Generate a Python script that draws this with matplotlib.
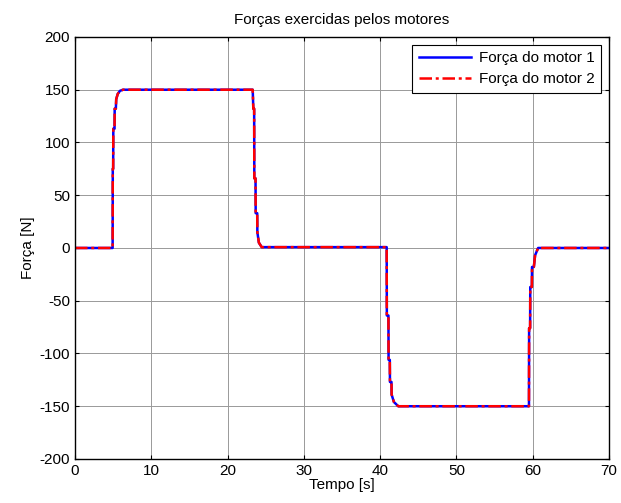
import matplotlib
matplotlib.use("Agg")
import matplotlib.pyplot as plt

# time [s] and force [N] (both motors overlap)
tempo = [0.0, 4.93, 4.95, 5.00, 5.02, 5.18, 5.20, 5.35, 5.40, 5.60, 5.90, 6.30,
         23.29, 23.37, 23.48, 23.50, 23.66, 23.68, 23.88, 23.90, 24.10, 24.47,
         40.85, 40.87, 41.08, 41.10, 41.26, 41.28, 41.48, 41.50, 41.80, 42.37,
         59.50, 59.52, 59.65, 59.67, 59.88, 59.90, 60.14, 60.30, 60.70, 70.0]
forca1 = [0.0, 0.0, 75.0, 75.0, 113.0, 113.0, 132.0, 132.0, 141.0, 146.0, 149.0, 150.0,
          150.0, 132.0, 132.0, 66.0, 66.0, 33.0, 33.0, 15.0, 5.0, 0.8,
          0.8, -64.0, -64.0, -106.0, -106.0, -127.0, -127.0, -139.0, -146.0, -150.0,
          -150.0, -76.0, -76.0, -37.0, -37.0, -18.0, -18.0, -7.0, 0.0, 0.0]
forca2 = list(forca1)

series_labels = ["Força do motor 1", "Força do motor 2"]
x_ticks = list(range(0, 71, 10))
y_ticks = list(range(-200, 201, 50))

plt.rcParams["font.family"] = ["Liberation Sans", "DejaVu Sans"]
plt.rcParams["font.size"] = 11
plt.rcParams["axes.unicode_minus"] = False

fig = plt.figure(figsize=(6.21, 5.03), dpi=100)
ax = fig.add_axes([0.1208, 0.0875, 0.860, 0.839])

ax.plot(tempo, forca1, color="blue", lw=1.8, label=series_labels[0])
ax.plot(tempo, forca2, color="red", lw=1.8, ls=(0, (5, 1.5, 1.2, 1.5)),
        label=series_labels[1])

ax.set_xlim(0, 70)
ax.set_ylim(-200, 200)
ax.set_xticks(x_ticks)
ax.set_yticks(y_ticks)
ax.grid(True, color="0.6", lw=0.7)
ax.set_axisbelow(True)
ax.tick_params(direction="in", top=True, right=True, length=3, pad=3.5,
               labelsize=11)
for s in ax.spines.values():
    s.set_linewidth(1.0)

ax.set_title("Forças exercidas pelos motores", pad=9, fontsize=11)
ax.set_xlabel("Tempo [s]", labelpad=0)
ax.set_ylabel("Força [N]", labelpad=3)

leg = ax.legend(loc="upper right", fancybox=False, framealpha=1,
                edgecolor="black", handlelength=3.4, borderaxespad=0.5,
                borderpad=0.45, labelspacing=0.45, handletextpad=0.5)
leg.get_frame().set_linewidth(0.8)

fig.savefig("out.png", dpi=100)
